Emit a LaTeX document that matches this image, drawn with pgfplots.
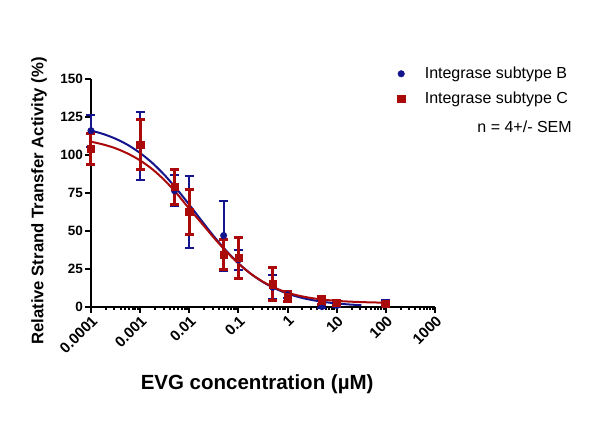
\documentclass[border=0pt]{standalone}
\usepackage{fontspec}
\setmainfont{Liberation Sans}
\usepackage{pgfplots}
\pgfplotsset{compat=1.18}
\definecolor{cblue}{RGB}{20,20,140}
\definecolor{cred}{RGB}{170,10,10}
\begin{document}
\begin{tikzpicture}
\path[use as bounding box] (0,0) rectangle (600pt,423pt);
\begin{axis}[
  at={(91pt,116pt)}, anchor=south west,
  scale only axis, width=344pt, height=228pt,
  xmode=log, xmin=1e-4, xmax=1e3, ymin=0, ymax=150,
  axis x line=bottom, axis y line=left,
  axis line style={-, line width=2pt, black},
  tick style={line width=2pt, black},
  tick align=outside, major tick length=6pt,
  xtick={1e-4,1e-3,1e-2,1e-1,1,10,100,1000},
  xticklabels={0.0001,0.001,0.01,0.1,1,10,100,1000},
  minor xtick={}, minor tick num=0,
  ytick={0,25,50,75,100,125,150},
  yticklabels={0,25,50,75,100,125,150},
  xticklabel style={font=\fontsize{15}{18}\selectfont\bfseries, rotate=45, anchor=north east, inner sep=1pt},
  yticklabel style={font=\fontsize{13.5}{16}\selectfont\bfseries, inner sep=2pt},
  xlabel={EVG concentration (µM)},
  ylabel={Relative Strand Transfer Activity (\%)},
  xlabel style={font=\fontsize{20.5}{24}\selectfont\bfseries, at={(axis description cs:0.483,-0.338)}, anchor=center},
  ylabel style={font=\fontsize{16.7}{20}\selectfont\bfseries, at={(axis description cs:-0.151,0.465)}, anchor=center},
  clip=false,
  legend style={draw=none, fill=none, font=\fontsize{16}{19}\selectfont, at={(axis description cs:0.882,1.07)}, anchor=north west, row sep=7.5pt,
    /tikz/every odd column/.append style={column sep=18pt}},
  legend cell align=left,
]
% blue curve
\addplot[cblue, line width=2pt, smooth, forget plot] coordinates {
(1e-4,116.05) (1.778e-4,113.8) (3.162e-4,110.7) (5.623e-4,106.6) (1e-3,101.3) (1.778e-3,94.7) (3.162e-3,86.7) (5.623e-3,77.4) (1e-2,67.3) (1.778e-2,56.8) (3.162e-2,46.5) (5.623e-2,37.1) (0.1,28.8) (0.1778,21.9) (0.3162,16.4) (0.5623,12.1) (1,8.8) (1.778,6.35) (3.162,4.57) (5.623,3.27) (10,2.33) (17.78,1.66) (31.62,1.18)};
% blue data
\addplot[cblue, only marks, mark=*, mark size=3.3pt,
  error bars/.cd, y dir=both, y explicit,
  error bar style={line width=2pt, cblue},
  error mark options={rotate=90, line width=2pt, mark size=4.5pt, cblue}] coordinates {
(1e-4,116) +- (0,10.5)
(1e-3,106) +- (0,22.5)
(5e-3,76.5) +- (0,10.2)
(1e-2,62.5) +- (0,24)
(5e-2,47) +- (0,23)
(0.1,31) +- (0,6.5)
(0.5,13) +- (0,8)
(1,8) +- (0,2)
(5,0.3) +- (0,1)
(10,1) +- (0,1)
(100,2.5) +- (0,2)};
\addlegendentry{Integrase subtype B}
% red curve
\addplot[cred, line width=2pt, smooth, forget plot] coordinates {
(1e-4,108.75) (1.778e-4,106.9) (3.162e-4,104.4) (5.623e-4,100.9) (1e-3,96.4) (1.778e-3,90.6) (3.162e-3,83.3) (5.623e-3,74.5) (1e-2,64.6) (1.778e-2,55.2) (3.162e-2,45.6) (5.623e-2,36.6) (0.1,28.6) (0.1778,21.9) (0.3162,16.6) (0.5623,12.5) (1,9.4) (1.778,7.3) (3.162,5.8) (5.623,4.75) (10,4.03) (17.78,3.56) (31.62,3.23) (56.23,3.0) (100,2.85)};
% red data
\addplot[cred, only marks, mark=square*, mark size=3.6pt,
  error bars/.cd, y dir=both, y explicit,
  error bar style={line width=3pt, cred},
  error mark options={rotate=90, line width=3pt, mark size=4.5pt, cred}] coordinates {
(1e-4,104) +- (0,10)
(1e-3,107) +- (0,16.5)
(5e-3,79) +- (0,11.5)
(1e-2,62.5) +- (0,15)
(5e-2,34.5) +- (0,9.8)
(0.1,32.5) +- (0,13.5)
(0.5,15) +- (0,11)
(1,7) +- (0,3.5)
(5,4) +- (0,2.6)
(10,2.8) +- (0,1.5)
(100,2) +- (0,1)};
\addlegendentry{Integrase subtype C}
\node[anchor=east, font=\fontsize{16}{19}\selectfont, inner sep=0pt] at (axis description cs:1.398,0.789) {n = 4+/- SEM};
\end{axis}
\end{tikzpicture}
\end{document}
